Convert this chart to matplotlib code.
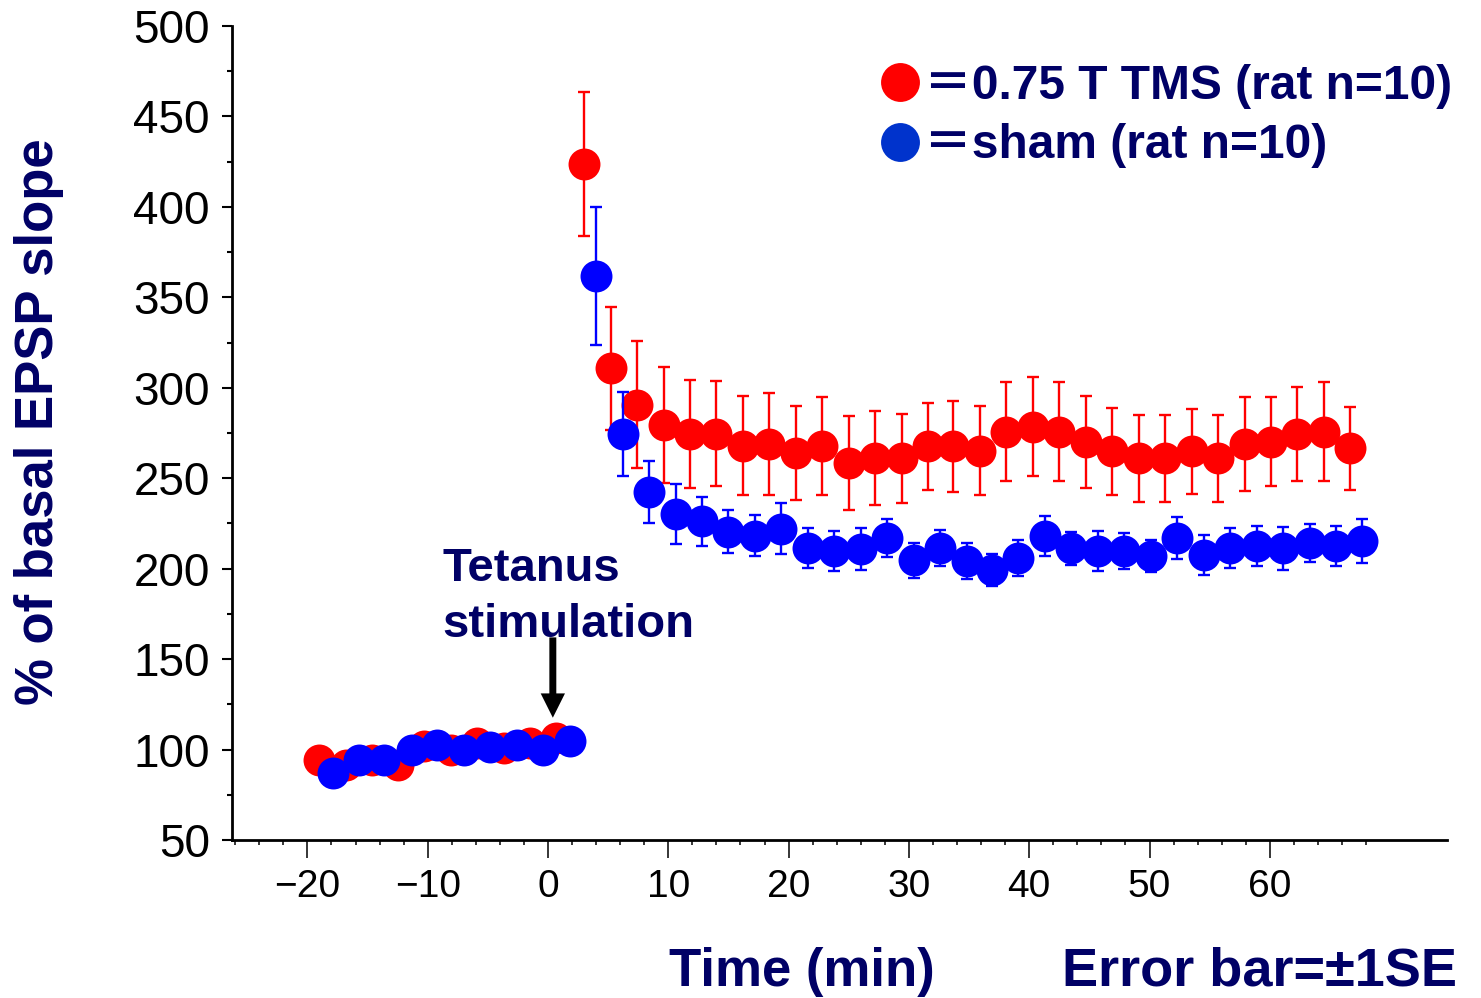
#!/usr/bin/env python3
# LTP time course: EPSP slope (% of baseline) for TMS vs sham rats.
# Writes out.png (1481x998).

import matplotlib.pyplot as plt
from matplotlib.lines import Line2D
from matplotlib.ticker import MultipleLocator, FixedLocator

# ---- data ---------------------------------------------------------------
# 0.75 T TMS group (red)
tms_time = [-19.0, -16.8, -14.6, -12.5, -10.3, -8.1, -5.9, -3.7, -1.5, 0.7,
            3.0, 5.2, 7.4, 9.6, 11.8, 14.0, 16.2, 18.4, 20.6, 22.8,
            25.0, 27.2, 29.4, 31.6, 33.7, 35.9, 38.1, 40.3, 42.5, 44.7,
            46.9, 49.1, 51.3, 53.5, 55.7, 57.9, 60.1, 62.3, 64.5, 66.7]
tms_mean = [94.3, 91.5, 94.0, 91.6, 101.7, 99.9, 103.6, 100.8, 103.6, 106.4,
            423.7, 310.9, 290.6, 279.5, 274.5, 274.5, 268.0, 268.9, 263.8, 268.0,
            258.4, 261.0, 261.0, 267.6, 267.6, 265.2, 275.7, 278.5, 275.7, 270.2,
            264.8, 261.0, 261.0, 264.8, 261.0, 268.9, 270.2, 274.5, 275.7, 266.5]
tms_se = [3, 3, 3, 3, 3, 3, 3, 3, 3, 3,
          40, 34, 35, 32, 30, 29, 27.5, 28, 26, 27,
          26, 26, 24.5, 24, 25, 24.5, 27.5, 27.5, 27.5, 25.5,
          24, 24, 24, 23.7, 24, 26, 24.5, 26, 27.5, 23]

# sham group (blue)
sham_time = [-17.9, -15.7, -13.6, -11.3, -9.2, -7.0, -4.8, -2.6, -0.4, 1.8,
             4.0, 6.2, 8.4, 10.6, 12.8, 15.0, 17.2, 19.4, 21.6, 23.8,
             26.0, 28.2, 30.4, 32.6, 34.8, 36.9, 39.1, 41.3, 43.5, 45.7,
             47.9, 50.1, 52.3, 54.5, 56.7, 58.9, 61.1, 63.3, 65.5, 67.7]
sham_mean = [87.3, 94.3, 94.3, 99.9, 102.7, 99.9, 101.2, 102.7, 99.9, 105.0,
             361.8, 274.5, 242.5, 230.1, 226.1, 220.5, 218.1, 222.1, 211.3, 209.8,
             211.0, 216.8, 204.6, 211.3, 204.2, 199.2, 205.7, 218.1, 211.3, 209.8,
             209.8, 207.0, 216.8, 207.4, 211.3, 212.5, 211.3, 214.0, 212.5, 215.3]
sham_se = [3, 3, 3, 3, 3, 3, 3, 3, 3, 3,
           38, 23, 17, 16.5, 13.5, 12, 11.3, 14, 11, 11,
           11.5, 10.6, 9.7, 10, 10, 8.7, 10, 11, 9, 11,
           10, 9, 11.5, 11, 11, 11, 12, 10.5, 11, 12]

x_major = [-20, -10, 0, 10, 20, 30, 40, 50, 60]
y_major = [50, 100, 150, 200, 250, 300, 350, 400, 450, 500]

labels = ["\uff1d0.75 T TMS (rat n=10)", "\uff1dsham (rat n=10)"]

# tetanus arrow (time, % value) - tip and tail
tetanus_tip = (0.4, 117.6)
tetanus_tail = (0.4, 162.0)

NAVY = "#000066"
RED = "#FF0000"
BLUE = "#0000FF"


def main():
    plt.rcParams["font.family"] = ["Liberation Sans", "Noto Sans CJK JP", "DejaVu Sans"]

    W, H = 1481, 998
    fig = plt.figure(figsize=(W / 100, H / 100), dpi=100)
    ax_w = 1447 - 232
    ax_h = 840 - 26
    ax = fig.add_axes([232 / W, 1 - 840 / H, ax_w / W, ax_h / H])

    err_kw = dict(fmt="o", markersize=23, elinewidth=1.7, capsize=4.3, capthick=1.7)
    red = ax.errorbar(tms_time, tms_mean, yerr=tms_se, color=RED, ecolor=RED,
                      zorder=3, **err_kw)
    blue = ax.errorbar(sham_time, sham_mean, yerr=sham_se, color=BLUE, ecolor=BLUE,
                       zorder=4, **err_kw)
    # flat dots, no outline (setting mew in errorbar() would kill the caps)
    for c in (red, blue):
        c.lines[0].set_markeredgewidth(0)

    ax.set_xlim(-26.27, 74.73)
    ax.set_ylim(50, 500)
    ax.xaxis.set_major_locator(FixedLocator(x_major))
    ax.xaxis.set_minor_locator(FixedLocator([v for v in range(-26, 69, 2) if v % 10]))
    ax.yaxis.set_major_locator(FixedLocator(y_major))
    ax.yaxis.set_minor_locator(MultipleLocator(25))

    for side in ("top", "right"):
        ax.spines[side].set_visible(False)
    for side in ("left", "bottom"):
        ax.spines[side].set_linewidth(2)

    ax.tick_params(axis="x", which="major", direction="out", length=13, width=1.1,
                   pad=8, labelsize=28)
    ax.tick_params(axis="x", which="minor", direction="out", length=3.6, width=1.1)
    ax.tick_params(axis="y", which="major", direction="out", length=7, width=1.5,
                   pad=9, labelsize=33)
    ax.tick_params(axis="y", which="minor", direction="out", length=3.6, width=1.5)

    ax.set_ylabel("% of basal EPSP slope", fontsize=38, fontweight="bold",
                  color=NAVY)
    ax.yaxis.set_label_coords((64 - 232) / ax_w, 1 - (422 - 26) / ax_h)

    # tetanus annotation
    ax.text(-8.8, 212, "Tetanus\nstimulation", fontsize=34, fontweight="bold",
            color=NAVY, ha="left", va="top", linespacing=1.35)
    ax.annotate("", xy=tetanus_tip, xytext=tetanus_tail,
                arrowprops=dict(arrowstyle="simple,head_length=1.75,head_width=1.75,tail_width=0.5",
                                mutation_scale=10, color="black", lw=0,
                                shrinkA=0, shrinkB=0))

    handles = [
        Line2D([], [], marker="o", ls="none", color="#FF0000", markersize=28, markeredgewidth=0),
        Line2D([], [], marker="o", ls="none", color="#0033CC", markersize=28, markeredgewidth=0),
    ]
    leg = fig.legend(handles, labels, loc="upper left",
                     bbox_to_anchor=(876 / W, 1 - 64 / H), frameon=False,
                     borderpad=0, borderaxespad=0, handlelength=1.0,
                     handletextpad=0.0, labelspacing=0.3,
                     prop=dict(size=34.5, weight="bold"))
    for t in leg.get_texts():
        t.set_color(NAVY)

    fig.text(802 / W, 1 - 972 / H, "Time (min)", fontsize=38, fontweight="bold",
             color=NAVY, ha="center", va="center")
    fig.text(1260 / W, 1 - 972 / H, "Error bar=\u00b11SE", fontsize=39,
             fontweight="bold", color=NAVY, ha="center", va="center")

    fig.savefig("out.png", dpi=100)
    plt.close(fig)


if __name__ == "__main__":
    main()
